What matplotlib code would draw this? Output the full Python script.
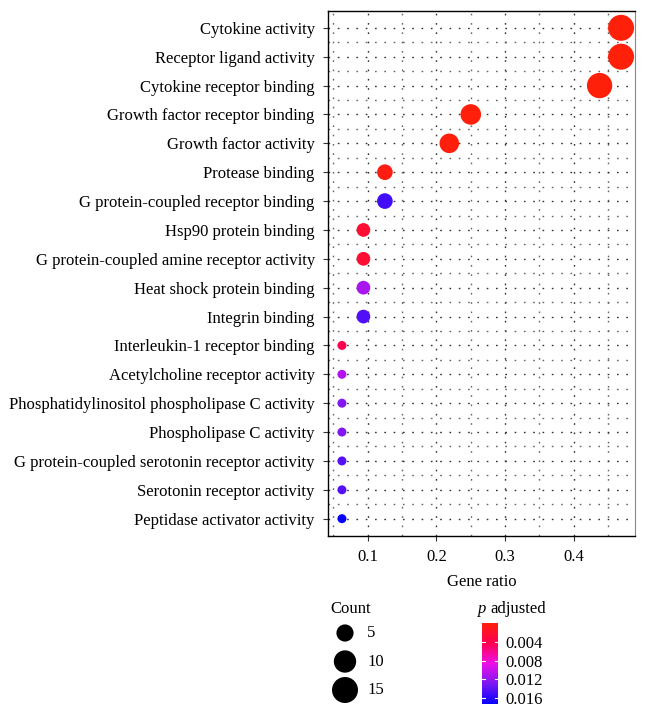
import numpy as np
import matplotlib
matplotlib.use("Agg")
import matplotlib.pyplot as plt
from matplotlib.colors import LinearSegmentedColormap, Normalize
from matplotlib.ticker import MultipleLocator, FixedLocator

plt.rcParams['font.family'] = ['Liberation Serif', 'DejaVu Serif']

terms = [
    "Cytokine activity",
    "Receptor ligand activity",
    "Cytokine receptor binding",
    "Growth factor receptor binding",
    "Growth factor activity",
    "Protease binding",
    "G protein-coupled receptor binding",
    "Hsp90 protein binding",
    "G protein-coupled amine receptor activity",
    "Heat shock protein binding",
    "Integrin binding",
    "Interleukin-1 receptor binding",
    "Acetylcholine receptor activity",
    "Phosphatidylinositol phospholipase C activity",
    "Phospholipase C activity",
    "G protein-coupled serotonin receptor activity",
    "Serotonin receptor activity",
    "Peptidase activator activity",
]
counts = [15, 15, 14, 8, 7, 4, 4, 3, 3, 3, 3, 2, 2, 2, 2, 2, 2, 2]
gene_ratio = [0.46875, 0.46875, 0.4375, 0.25, 0.21875, 0.125, 0.125, 0.09375,
              0.09375, 0.09375, 0.09375, 0.0625, 0.0625, 0.0625, 0.0625, 0.0625,
              0.0625, 0.0625]
p_adjusted = [0.00001, 0.00001, 0.00002, 0.0001, 0.0002, 0.0006, 0.0150, 0.0025,
              0.0025, 0.0112, 0.0145, 0.0043, 0.0108, 0.0126, 0.0126, 0.0143,
              0.0143, 0.0172]
legend_counts = [5, 10, 15]
cbar_ticks = [0.004, 0.008, 0.012, 0.016]

W, H, DPI = 646, 716, 100
FS = 12
fig = plt.figure(figsize=(W / DPI, H / DPI), dpi=DPI)

cmap = LinearSegmentedColormap.from_list(
    "padj", [(0.0, "#FF200A"), (0.25, "#FF0050"), (0.5, "#EE10E8"),
             (0.75, "#7A18F2"), (1.0, "#0800FF")])
norm = Normalize(vmin=min(p_adjusted), vmax=max(p_adjusted))

cmin, cmax = min(counts), max(counts)
def size_of(c):
    d_px = 9 + 17 * np.sqrt((np.asarray(c, float) - cmin) / (cmax - cmin))
    return (d_px * 72 / DPI) ** 2

ax = fig.add_axes([328 / W, 1 - 536 / H, (635 - 328) / W, (536 - 10.5) / H])
n = len(terms)
ypos = np.arange(n)[::-1]
ax.scatter(gene_ratio, ypos, s=size_of(counts), c=p_adjusted, cmap=cmap,
           norm=norm, linewidths=0, zorder=3)

lo, hi = min(gene_ratio), max(gene_ratio)
ax.set_xlim(lo - 0.05 * (hi - lo), hi + 0.05 * (hi - lo))
ax.set_ylim(-0.6, n - 1 + 0.6)
ax.set_yticks(ypos)
ax.set_yticklabels(terms, fontsize=FS)
ax.xaxis.set_major_locator(FixedLocator([0.1, 0.2, 0.3, 0.4]))
ax.set_xticklabels(["0.1", "0.2", "0.3", "0.4"], fontsize=FS)
ax.xaxis.set_minor_locator(MultipleLocator(0.05))
ax.yaxis.set_minor_locator(FixedLocator(np.arange(n - 1) + 0.5))
ax.tick_params(axis='y', which='major', length=3.5, width=0.8, color='#333333', pad=6)
ax.tick_params(axis='x', which='major', length=3.5, width=0.8, color='#333333', pad=6)
ax.tick_params(axis='both', which='minor', length=0)
ax.grid(True, which='major', color='#333333', linestyle=(0, (1.2, 5.5)), linewidth=1.0)
ax.grid(True, which='minor', color='#666666', linestyle=(0, (1.2, 5.5)), linewidth=1.0)
ax.set_axisbelow(True)
for side in ['left', 'bottom', 'top']:
    ax.spines[side].set_color('black')
    ax.spines[side].set_linewidth(1.0)
ax.spines['right'].set_color('#888888')
ax.set_xlabel("Gene ratio", fontsize=FS, labelpad=6)

# Count legend
fig.text(330 / W, 1 - 609 / H, "Count", fontsize=FS, va='center', ha='left')
lax = fig.add_axes([330 / W, 1 - 705 / H, 60 / W, 88 / H])
lax.set_xlim(0, 60)
lax.set_ylim(705, 617)
lax.axis('off')
leg_y = [633, 661.5, 690]
lax.scatter([15] * 3, leg_y, s=size_of(legend_counts), c='black', linewidths=0)
for yy, c in zip(leg_y, legend_counts):
    lax.text(37, yy, str(c), fontsize=FS, va='center', ha='left')

# Colorbar
fig.text(478 / W, 1 - 609 / H, "p", fontsize=FS, style='italic', va='center', ha='left')
fig.text(490 / W, 1 - 609 / H, "adjusted", fontsize=FS, va='center', ha='left')
cax = fig.add_axes([482 / W, 1 - 704 / H, 16 / W, 81 / H])
sm = matplotlib.cm.ScalarMappable(norm=norm, cmap=cmap)
cb = fig.colorbar(sm, cax=cax, ticks=cbar_ticks)
cb.outline.set_visible(False)
cax.invert_yaxis()
cax.set_yticklabels(["%.3f" % t for t in cbar_ticks], fontsize=FS)
cax.tick_params(length=0, pad=5)
for t in cbar_ticks:
    cax.plot([0, 0.2], [t, t], color='white', lw=0.8, transform=cax.get_yaxis_transform())
    cax.plot([0.8, 1.0], [t, t], color='white', lw=0.8, transform=cax.get_yaxis_transform())

fig.savefig("out.png", dpi=DPI)
